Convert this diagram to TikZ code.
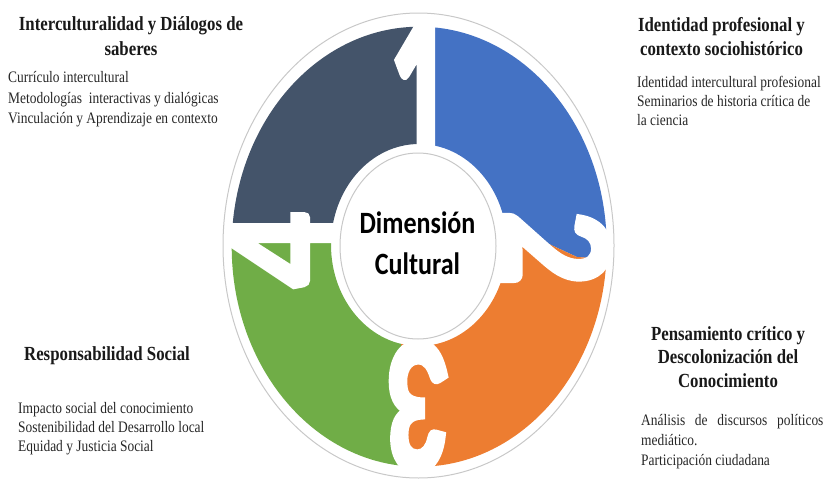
\documentclass[tikz,border=0pt]{standalone}
\usepackage{fontspec}
\setmainfont{Liberation Serif}
\newfontfamily\calibri{Carlito}
\newfontfamily\calibridigit[UprightFont={* Bold}, FakeBold=3]{Carlito}
\definecolor{segdark}{HTML}{44546A}
\definecolor{segblue}{HTML}{4472C4}
\definecolor{segorange}{HTML}{ED7D31}
\definecolor{seggreen}{HTML}{70AD47}
\definecolor{rimgray}{HTML}{C8C8C8}
\newcommand\ringpath{(419.2,246.7) ellipse [x radius=187.5, y radius=220] (419,245) ellipse [x radius=88, y radius=101]}
\tikzset{
  digit/.style={font=\calibridigit\fontsize{150}{150}\selectfont, text=white, inner sep=0pt, anchor=center},
  head/.style={font=\bfseries\fontsize{20}{24}\selectfont, xscale=0.84, inner sep=0pt, anchor=base, text=black!90},
  body/.style={font=\fontsize{16}{20}\selectfont, xscale=0.84, inner sep=0pt, anchor=base west, text=black!85},
  ctext/.style={font=\calibri\bfseries\fontsize{31}{31}\selectfont, xscale=0.84, inner sep=0pt, anchor=base, text=black}
}
\begin{document}
\begin{tikzpicture}[x=1pt,y=-1pt]
\useasboundingbox (0,0) rectangle (824,479);
% segments
\begin{scope}
  \clip (200,-10) -- (422,-10) -- (422,150) -- (415,240) -- (334,230) -- (200,230) -- cycle;
  \fill[segdark, even odd rule] \ringpath;
\end{scope}
\begin{scope}
  \clip (422,-10) -- (650,-10) -- (650,262) -- (577,257) -- (523,232) -- (500,230) -- (415,240) -- (422,150) -- cycle;
  \fill[segblue, even odd rule] \ringpath;
\end{scope}
\begin{scope}
  \clip (650,262) -- (650,490) -- (401,490) -- (401,340) -- (415,240) -- (500,230) -- (523,232) -- (577,257) -- cycle;
  \fill[segorange, even odd rule] \ringpath;
\end{scope}
\begin{scope}
  \clip (401,490) -- (190,490) -- (190,230) -- (334,230) -- (415,240) -- (401,340) -- cycle;
  \fill[seggreen, even odd rule] \ringpath;
\end{scope}
% digits
\node[digit, xscale=0.84, yscale=1.65] (d1) at (420,99) {1};
\node[digit, xscale=0.84, rotate=-90, yscale=1.3] (d2) at (556,248) {2};
\node[digit, xscale=0.84, rotate=180, yscale=1.3] (d3) at (419,407) {3};
\node[digit, xscale=0.84, rotate=90, yscale=1.3] (d4) at (280,250) {4};
% outer rim
\draw[rimgray, line width=1pt] (418.5,245.5) ellipse [x radius=195.5, y radius=232.5];
% inner circle
\draw[rimgray, fill=white, line width=1pt] (418,246) ellipse [x radius=78, y radius=93];
\node[ctext] (c1) at (417.5,233) {Dimensión};
\node[ctext] (c2) at (417.5,274) {Cultural};
% top left
\node[head] (tl1) at (131,30) {Interculturalidad y Diálogos de};
\node[head] (tl2) at (131,55) {saberes};
\node[body] (tlb1) at (8,82.7) {Currículo intercultural};
\node[body] (tlb2) at (8,103) {Metodologías\ \ interactivas y dialógicas};
\node[body] (tlb3) at (8,123.3) {Vinculación y Aprendizaje en contexto};
% top right
\node[head] (tr1) at (721.5,31) {Identidad profesional y};
\node[head] (tr2) at (721.5,55) {contexto sociohistórico};
\node[body] (trb1) at (637,87) {Identidad intercultural profesional};
\node[body] (trb2) at (637,106) {Seminarios de historia crítica de};
\node[body] (trb3) at (637,125) {la ciencia};
% bottom left
\node[head] (bl1) at (107,360) {Responsabilidad Social};
\node[body] (blb1) at (18,413) {Impacto social del conocimiento};
\node[body] (blb2) at (18,432) {Sostenibilidad del Desarrollo local};
\node[body] (blb3) at (18,451) {Equidad y Justicia Social};
% bottom right
\node[head] (br1) at (728,340) {Pensamiento crítico y};
\node[head] (br2) at (728,363.5) {Descolonización del};
\node[head] (br3) at (728,387) {Conocimiento};
\node[body] (brb1) at (641,425) {\hbox to 217pt{Análisis\hfill de\hfill discursos\hfill políticos}};
\node[body] (brb2) at (641,445) {mediático.};
\node[body] (brb3) at (641,465) {Participación ciudadana};
\end{tikzpicture}
\end{document}
